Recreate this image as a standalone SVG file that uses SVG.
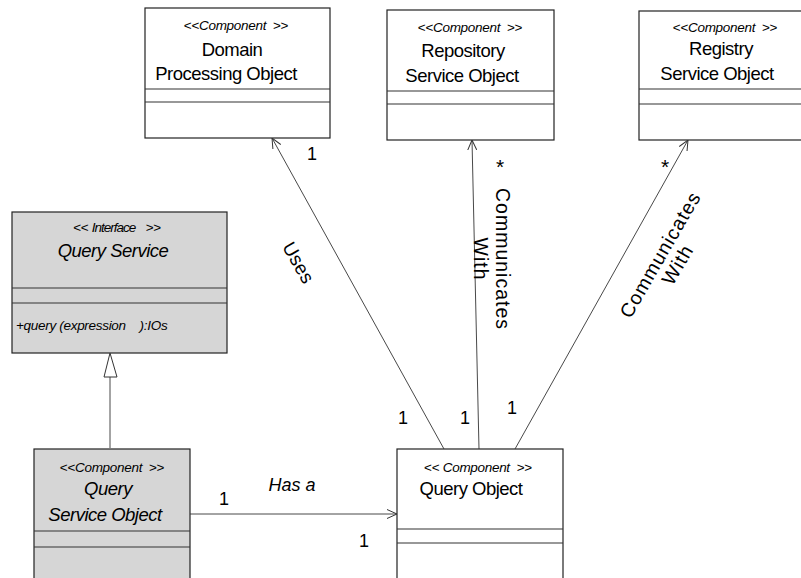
<svg xmlns="http://www.w3.org/2000/svg" width="801" height="578" viewBox="0 0 801 578">
<style>
text{font-family:"Liberation Sans",Arial,sans-serif;fill:#000;white-space:pre}
.box{fill:#fff;stroke:#222;stroke-width:1.2}
.gbox{fill:#d6d6d6;stroke:#222;stroke-width:1.2}
.sep{stroke:#333;stroke-width:1.2}
.st{font-size:13.5px;text-anchor:middle;letter-spacing:-0.3px}
.nm{font-size:18.5px;text-anchor:middle;letter-spacing:-0.5px}
.it{font-style:italic}
.lb{font-size:18px}
.cw{font-size:19px;letter-spacing:0.3px}
.cw2{font-size:19.5px;letter-spacing:1px}
.con{stroke:#333;stroke-width:0.9;fill:none}
</style>
<defs>
<marker id="open" viewBox="0 0 10 10" refX="10" refY="5" markerWidth="10" markerHeight="10" markerUnits="userSpaceOnUse" orient="auto">
<path d="M0,0.5 L10,5 L0,9.5" fill="none" stroke="#333" stroke-width="1"/>
</marker>
</defs>
<g id="domain">
<rect class="box" x="145" y="8" width="185" height="130"/>
<line class="sep" x1="145" y1="89" x2="330" y2="89" stroke="#777"/>
<line class="sep" x1="145" y1="102" x2="330" y2="102"/>
<text class="st" x="236" y="30">&lt;&lt;<tspan class="it">Component</tspan>  &gt;&gt;</text>
<text class="nm" x="232" y="56">Domain</text>
<text class="nm" x="226" y="80">Processing Object</text>
</g>
<g id="repository">
<rect class="box" x="387" y="10" width="167" height="130"/>
<line class="sep" x1="387" y1="91" x2="554" y2="91" stroke="#777"/>
<line class="sep" x1="387" y1="104" x2="554" y2="104"/>
<text class="st" x="470" y="32">&lt;&lt;<tspan class="it">Component</tspan>  &gt;&gt;</text>
<text class="nm" x="463" y="57">Repository</text>
<text class="nm" x="462" y="82">Service Object</text>
</g>
<g id="registry">
<rect class="box" x="639" y="11" width="170" height="129"/>
<line class="sep" x1="639" y1="89" x2="809" y2="89" stroke="#777"/>
<line class="sep" x1="639" y1="104" x2="809" y2="104"/>
<text class="st" x="725" y="32">&lt;&lt;<tspan class="it">Component</tspan>  &gt;&gt;</text>
<text class="nm" x="721" y="55">Registry</text>
<text class="nm" x="717" y="80">Service Object</text>
</g>
<g id="queryService">
<rect class="gbox" x="12" y="212" width="215" height="141"/>
<line class="sep" x1="12" y1="288" x2="227" y2="288"/>
<line class="sep" x1="12" y1="303" x2="227" y2="303"/>
<text class="st" x="117" y="232">&lt;&lt; <tspan class="it" letter-spacing="-1">Interface</tspan>   &gt;&gt;</text>
<text class="nm it" x="113" y="257">Query Service</text>
<text x="16" y="330" font-size="13.5" letter-spacing="-0.3" class="it">+query (expression    ):IOs</text>
</g>
<g id="queryServiceObject">
<rect class="gbox" x="34" y="449" width="156" height="140"/>
<line class="sep" x1="34" y1="531" x2="190" y2="531"/>
<line class="sep" x1="34" y1="547" x2="190" y2="547"/>
<text class="st" x="112" y="472">&lt;&lt;<tspan class="it">Component</tspan>  &gt;&gt;</text>
<text class="nm it" x="108" y="495">Query</text>
<text class="nm it" x="105" y="521">Service Object</text>
</g>
<g id="queryObject">
<rect class="box" x="397" y="449" width="166" height="140"/>
<line class="sep" x1="397" y1="529" x2="563" y2="529"/>
<line class="sep" x1="397" y1="543" x2="563" y2="543"/>
<text class="st" x="478" y="472">&lt;&lt; <tspan class="it">Component</tspan>  &gt;&gt;</text>
<text class="nm" x="471" y="495">Query Object</text>
</g>
<g id="connectors">
<line class="con" x1="110" y1="448" x2="110" y2="377"/>
<polygon points="110,353 104,377 117,377" fill="#fff" stroke="#333" stroke-width="1"/>
<line class="con" x1="190" y1="514" x2="397" y2="514" marker-end="url(#open)"/>
<line class="con" x1="444" y1="449" x2="272" y2="138" marker-end="url(#open)"/>
<line class="con" x1="479" y1="449" x2="472" y2="140" marker-end="url(#open)"/>
<line class="con" x1="515" y1="449" x2="688" y2="140" marker-end="url(#open)"/>
<text class="lb it" x="292" y="491" text-anchor="middle">Has a</text>
<text class="lb" x="224" y="505" text-anchor="middle">1</text>
<text class="lb" x="364" y="547" text-anchor="middle">1</text>
<text class="lb" x="312" y="160" text-anchor="middle">1</text>
<text class="lb" x="403" y="424" text-anchor="middle">1</text>
<text class="lb" x="465" y="424" text-anchor="middle">1</text>
<text class="lb" x="512" y="414" text-anchor="middle">1</text>
<text x="500" y="174" font-size="21" text-anchor="middle">*</text>
<text x="665" y="174" font-size="21" text-anchor="middle">*</text>
<text class="cw" text-anchor="middle" transform="translate(298,263) rotate(60)" dy="6">Uses</text>
<g transform="translate(491,259) rotate(90)">
<text class="cw2" text-anchor="middle" y="-5">Communicates</text>
<text class="cw2" text-anchor="middle" y="17">With</text>
</g>
<g transform="translate(666,258) rotate(-60)">
<text class="cw2" text-anchor="middle" y="0">Communicates</text>
<text class="cw2" text-anchor="middle" y="20">With</text>
</g>
</g>
</svg>
